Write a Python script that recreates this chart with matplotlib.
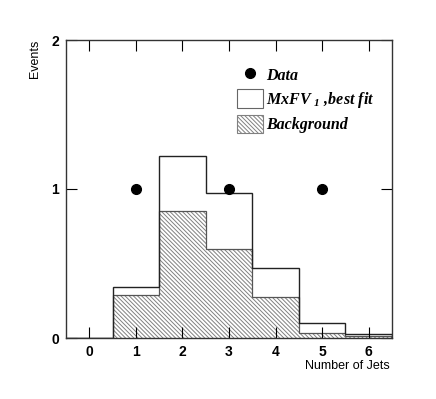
import matplotlib

matplotlib.use("Agg")
import matplotlib.pyplot as plt
import numpy as np
from matplotlib.lines import Line2D
from matplotlib.patches import Patch

# jet multiplicity bins 0..6
n_jets = [0, 1, 2, 3, 4, 5, 6]
data_counts = [0, 1, 0, 1, 0, 1, 0]
fit_total = [0.0, 0.34, 1.22, 0.97, 0.47, 0.10, 0.03]  # MxFV_1 best fit (signal + background)
background = [0.0, 0.29, 0.855, 0.595, 0.277, 0.036, 0.013]

plt.rcParams["hatch.linewidth"] = 0.7
plt.rcParams["mathtext.fontset"] = "custom"
plt.rcParams["mathtext.rm"] = "Liberation Serif:bold:italic"
plt.rcParams["mathtext.it"] = "Liberation Serif:bold:italic"

HATCH = "\\" * 8
HATCH_COL = "#808080"
edges = np.append(np.array(n_jets) - 0.5, n_jets[-1] + 0.5)

fig = plt.figure(figsize=(4.36, 3.99), dpi=100)
ax = fig.add_axes([66 / 436, 1 - 338 / 399, 326 / 436, 298 / 399])

# hatched fill in light gray, outline drawn on top a bit darker
ax.stairs(background, edges, fill=True, facecolor="white", edgecolor=HATCH_COL,
          hatch=HATCH, lw=0)
ax.stairs(background, edges, color="#555555", lw=0.9)
ax.stairs(fit_total, edges, color="#222222", lw=1.0)

x = np.array(n_jets)
y = np.array(data_counts)
m = y > 0
ax.plot(x[m], y[m], "o", color="k", ms=7, zorder=5)

ax.set_xlim(-0.5, 6.5)
ax.set_ylim(0, 2)
ax.set_xticks(n_jets)
ax.set_yticks([0, 1, 2])
ax.tick_params(direction="in", length=8, width=0.8, top=True, right=True, pad=5)
for lab in ax.get_xticklabels() + ax.get_yticklabels():
    lab.set_fontweight("bold")
    lab.set_fontsize(10)
    lab.set_family("Liberation Sans")
for s in ax.spines.values():
    s.set_color("#333333")
    s.set_linewidth(1.0)

fig.text(35 / 436, 1 - 40 / 399, "Events", rotation=90, ha="center", va="top",
         fontsize=9, family="Liberation Sans")
fig.text(390 / 436, 1 - 366 / 399, "Number of Jets", ha="right", va="center",
         fontsize=9, family="Liberation Sans")

handles = [
    Line2D([], [], marker="o", ls="none", color="k", ms=7),
    Patch(facecolor="white", edgecolor="#666666", lw=0.8),
    Patch(facecolor="white", edgecolor=HATCH_COL, hatch=HATCH, lw=0.8),
]
labels = ["Data", r"MxFV $_{1}$ ,best fit", "Background"]
ax.legend(handles, labels, loc="upper left", bbox_to_anchor=(0.5, 0.94), frameon=False,
          prop={"family": "Liberation Serif", "weight": "bold", "style": "italic", "size": 11.5},
          handlelength=1.6, handleheight=1.4, handletextpad=0.2, labelspacing=0.3,
          borderpad=0)

fig.savefig("out.png", dpi=100)
